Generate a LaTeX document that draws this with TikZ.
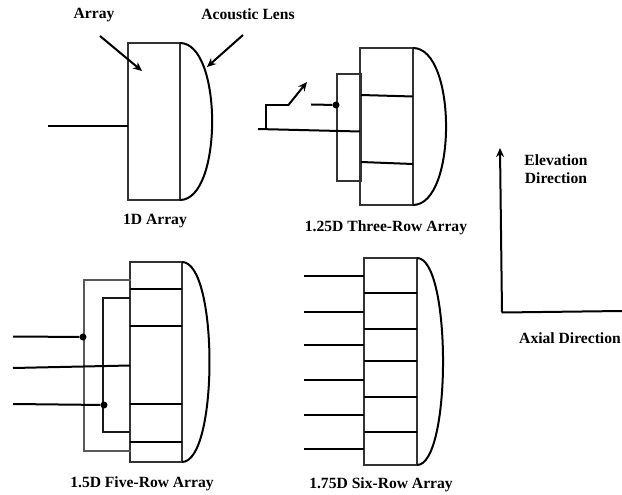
\documentclass[tikz,border=0pt]{standalone}
\usepackage{fontspec}
\setmainfont{Liberation Serif}
\usetikzlibrary{arrows.meta}
\begin{document}
\begin{tikzpicture}[x=1pt, y=-1pt,
  every node/.style={font=\fontsize{15.6}{18}\selectfont\bfseries, align=center},
  elem/.style={draw=black!80, line width=1.3pt, inner sep=0pt, outer sep=0pt},
  lens/.style={out=0, in=0, line width=2pt},
  row/.style={line width=2pt},
  wire/.style={line width=2pt},
  lead/.style={draw=black!65, line width=1.4pt},
  arrow/.style={line width=2pt, -{Stealth[length=9pt, width=8pt]}},
  dot/.style={circle, fill=black, inner sep=0pt, minimum size=7pt}]
\useasboundingbox (0,0) rectangle (622,495);

% 1D array
\node[elem, minimum width=52pt, minimum height=157pt] (oneD) at (154,121.5) {};
\draw[lens, looseness=.7] (oneD.north east) to (oneD.south east);
\coordinate (oneDin) at (48,126);
\draw[wire] (oneDin) -- (oneDin -| oneD.west);
\node (arrayLabel) at (94,15) {Array};
\node (lensLabel) at (248,14) {Acoustic Lens};
\coordinate (arrayTail) at (100,36);
\coordinate (arrayHead) at (142,71);
\coordinate (lensTail) at (243,35);
\coordinate (lensHead) at (207,67);
\draw[arrow] (arrayTail) -- (arrayHead);
\draw[arrow] (lensTail) -- (lensHead);
\node (oneDLabel) at (155,221) {1D Array};

% 1.25D three-row array
\node[elem, minimum width=53pt, minimum height=157pt] (three) at (386.5,126.5) {};
\node[elem, minimum width=24pt, minimum height=107pt] (threeSw) at (349,127.5) {};
\draw[lens, looseness=.72] (three.north east) to (three.south east);
\coordinate (threeA) at (361,95);
\coordinate (threeB) at (413,96.5);
\coordinate (threeC) at (361,162);
\coordinate (threeD) at (413,164);
\draw[row] (threeA) -- (threeB);
\draw[row] (threeC) -- (threeD);
\coordinate (swIn) at (258,129);
\coordinate (swEnd) at (360,131.5);
\coordinate (swFoot) at (266,129);
\coordinate (swUp) at (266,105.5);
\coordinate (swHinge) at (288,105.5);
\coordinate (swTip) at (307,82);
\coordinate (contact) at (311,104.5);
\node[dot] (contactDot) at (336,105) {};
\draw[wire] (swIn) -- (swEnd);
\draw[wire] (swFoot) -- (swUp) -- (swHinge);
\draw[arrow] (swHinge) -- (swTip);
\draw[wire] (contact) -- (contactDot);
\node (threeLabel) at (386,228) {1.25D Three-Row Array};

% 1.5D five-row array
\node[elem, minimum width=52pt, minimum height=200pt] (five) at (156,362) {};
\draw[lens, looseness=.47] (five.north east) to (five.south east);
\foreach \y in {289,325.5,404,442} {
  \draw[row] (five.west |- 0,\y) -- (five.east |- 0,\y);
}
\coordinate (outerA) at (131,280);
\coordinate (outerB) at (84,280);
\coordinate (outerC) at (84,451);
\coordinate (outerD) at (131,451);
\coordinate (innerA) at (130,298);
\coordinate (innerB) at (103,298);
\coordinate (innerC) at (103,432);
\coordinate (innerD) at (130,432);
\draw[lead] (outerA) -- (outerB) -- (outerC) -- (outerD);
\draw[lead, draw=black!90] (innerA) -- (innerB) -- (innerC) -- (innerD);
\coordinate (fiveIn) at (13,336.5);
\coordinate (fiveMid) at (13,368);
\coordinate (fiveMidEnd) at (130,365.5);
\coordinate (fiveLow) at (13,404);
\node[dot] (outerDot) at (83,337) {};
\node[dot] (innerDot) at (104,405) {};
\draw[wire] (fiveIn) -- (outerDot);
\draw[wire] (fiveMid) -- (fiveMidEnd);
\draw[wire] (fiveLow) -- (innerDot);
\node (fiveLabel) at (142,484) {1.5D Five-Row Array};

% 1.75D six-row array
\node[elem, minimum width=53pt, minimum height=207pt] (six) at (390.5,361.5) {};
\draw[lens, looseness=.43] (six.north east) to (six.south east);
\foreach \y in {293,328.5,361,397,432} {
  \draw[row] (six.west |- 0,\y) -- (six.east |- 0,\y);
}
\foreach \y [count=\i] in {276,311.5,344.5,379.5,414.5,448.5} {
  \coordinate (sixIn\i) at (304,\y);
  \draw[wire] (sixIn\i) -- (sixIn\i -| six.west);
}
\node (sixLabel) at (381,485) {1.75D Six-Row Array};

% directions
\coordinate (origin) at (502,312.5);
\coordinate (elevTip) at (500,148);
\coordinate (axialEnd) at (622,311);
\draw[arrow] (origin) -- (elevTip);
\draw[wire] (origin) -- (axialEnd);
\node (elevLabel) at (556,169) {Elevation\\Direction};
\node (axialLabel) at (570,338) {Axial Direction};
\end{tikzpicture}
\end{document}
